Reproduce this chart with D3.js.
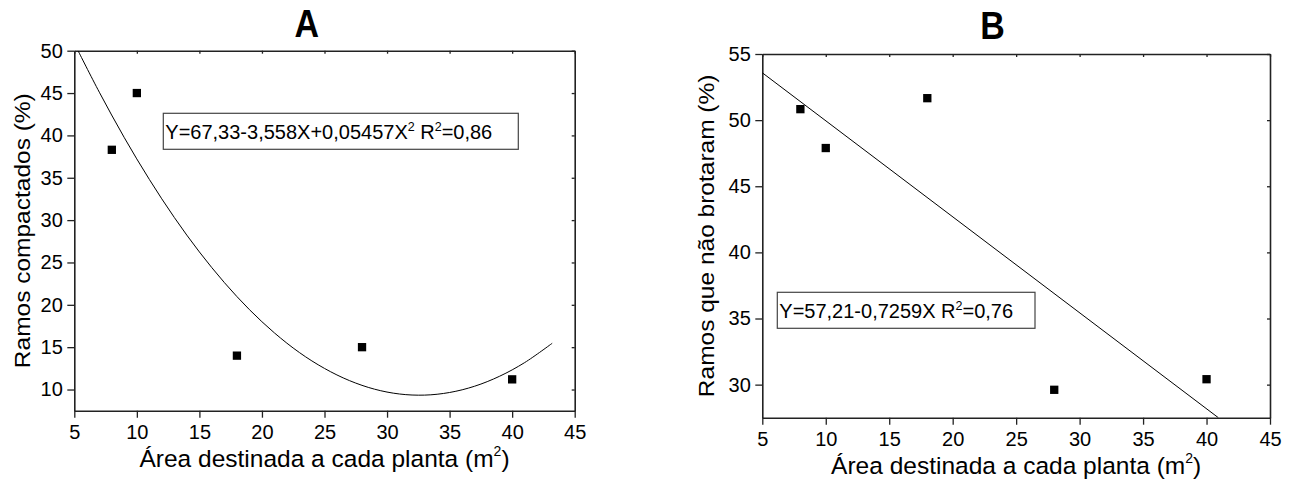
<!DOCTYPE html>
<html>
<head>
<meta charset="utf-8">
<script src="https://cdn.jsdelivr.net/npm/d3@7"></script>
<style>
  html, body { margin: 0; padding: 0; background: #fff; }
  svg { display: block; }
  text { font-family: "Liberation Sans", Arial, Helvetica, sans-serif; fill: #000; }
</style>
</head>
<body>
<svg id="chart" width="1296" height="482"></svg>
<script>
// ---------- data ----------
const xTickValues = [5, 10, 15, 20, 25, 30, 35, 40, 45];
const yTickValuesA = [10, 15, 20, 25, 30, 35, 40, 45, 50];
const yTickValuesB = [30, 35, 40, 45, 50, 55];

const areaA = [8, 10, 18, 28, 40];
const ramosCompactados = [38.3, 45.0, 14.0, 15.0, 11.2];

const areaB = [8, 10, 18, 28, 40];
const ramosNaoBrotaram = [50.83, 47.89, 51.66, 29.61, 30.41];

// fitted curve of panel A
const fitAX = [5.3, 7, 9, 11, 13, 15, 17, 19, 21, 23, 25, 27, 29, 31, 33, 35, 37, 39, 41, 43.2];
const fitAY = [50.0, 45.10, 39.73, 34.80, 30.30, 26.24, 22.62, 19.43, 16.68, 14.36, 12.49, 11.05, 10.04, 9.47, 9.34, 9.65, 10.39, 11.57, 13.18, 15.46];

// fitted line of panel B
const fitBX = [5, 40.93];
const fitBY = [53.58, 27.5];

const titleA = "A";
const titleB = "B";
const xLabel = ["Área destinada a cada planta (m", "2", ")"];
const yLabelA = "Ramos compactados (%)";
const yLabelB = "Ramos que não brotaram (%)";
const equationA = [["Y=67,33-3,558X+0,05457X", false], ["2", true], [" R", false], ["2", true], ["=0,86", false]];
const equationB = [["Y=57,21-0,7259X R", false], ["2", true], ["=0,76", false]];

// ---------- drawing ----------
const svg = d3.select("#chart");
const AXIS = "#222";

function drawPanel(cfg) {
  const x = d3.scaleLinear().domain([5, 45]).range([cfg.left, cfg.right]);
  const y = d3.scaleLinear().domain(cfg.yDomain).range([cfg.bottom, cfg.top]);
  const g = svg.append("g");

  const clipId = "clip" + cfg.id;
  svg.append("clipPath").attr("id", clipId).append("rect")
    .attr("x", cfg.left).attr("y", cfg.top)
    .attr("width", cfg.right - cfg.left).attr("height", cfg.bottom - cfg.top);

  // bottom axis
  const xb = g.append("g").attr("transform", `translate(0,${cfg.bottom})`)
    .call(d3.axisBottom(x).tickValues(xTickValues).tickSize(7).tickSizeOuter(0).tickPadding(7.5));
  // left axis
  const yl = g.append("g").attr("transform", `translate(${cfg.left},0)`)
    .call(d3.axisLeft(y).tickValues(cfg.yTicks).tickSize(7).tickSizeOuter(0).tickPadding(4.5));
  // top axis (inward ticks)
  const xt = g.append("g").attr("transform", `translate(0,${cfg.top})`)
    .call(d3.axisBottom(x).tickValues(xTickValues).tickSize(3).tickSizeOuter(0).tickFormat(""));
  // right axis (inward ticks)
  const yr = g.append("g").attr("transform", `translate(${cfg.right},0)`)
    .call(d3.axisLeft(y).tickValues(cfg.yTicks).tickSize(3).tickSizeOuter(0).tickFormat(""));

  [xb, yl, xt, yr].forEach(a => {
    a.select(".domain").attr("stroke", AXIS).attr("stroke-width", 1.6);
    a.selectAll(".tick line").attr("stroke", AXIS).attr("stroke-width", 1.3);
    a.selectAll(".tick text").attr("font-size", 20).attr("fill", "#111")
      .style("font-family", '"Liberation Sans", Arial, sans-serif');
  });

  // fit line
  g.append("path")
    .datum(cfg.fitX.map((v, i) => [v, cfg.fitY[i]]))
    .attr("clip-path", `url(#${clipId})`)
    .attr("fill", "none").attr("stroke", "#000").attr("stroke-width", 1)
    .attr("d", d3.line().x(d => x(d[0])).y(d => y(d[1])).curve(d3.curveCatmullRom));

  // points
  const s = 8.3;
  g.selectAll("rect.pt").data(cfg.px.map((v, i) => [v, cfg.py[i]])).join("rect")
    .attr("class", "pt")
    .attr("x", d => x(d[0]) - s / 2).attr("y", d => y(d[1]) - s / 2)
    .attr("width", s).attr("height", s).attr("fill", "#000");

  // equation box
  g.append("rect")
    .attr("x", cfg.box[0]).attr("y", cfg.box[1])
    .attr("width", cfg.box[2]).attr("height", cfg.box[3])
    .attr("fill", "#fff").attr("stroke", "#444").attr("stroke-width", 1.2);
  const eq = g.append("text").attr("x", cfg.box[0] + 2).attr("y", cfg.box[1] + 26)
    .attr("font-size", 20);
  let prevSup = false;
  cfg.equation.forEach(([t, sup]) => {
    const ts = eq.append("tspan").text(t);
    if (sup) ts.attr("font-size", 12.5).attr("dy", -8);
    else ts.attr("dy", prevSup ? 8 : 0);
    prevSup = sup;
  });

  // x axis label
  const xl = g.append("text")
    .attr("x", (cfg.left + cfg.right) / 2).attr("y", cfg.bottom + 56.5)
    .attr("text-anchor", "middle").attr("font-size", 24.5);
  xl.append("tspan").text(xLabel[0]);
  xl.append("tspan").attr("font-size", 14).attr("dy", -11).text(xLabel[1]);
  xl.append("tspan").attr("dy", 11).text(xLabel[2]);

  // y axis label
  g.append("text")
    .attr("transform", `translate(${cfg.yLabelX},${(cfg.top + cfg.bottom) / 2}) rotate(-90) scale(1,0.92)`)
    .attr("text-anchor", "middle").attr("font-size", 24.5)
    .text(cfg.yLabel);

  // panel title
  g.append("text")
    .attr("transform", `translate(${cfg.titleX},${cfg.titleY}) scale(1,1.12)`)
    .attr("text-anchor", "middle").attr("font-size", 34).attr("font-weight", "bold")
    .text(cfg.title);
}

drawPanel({
  id: "A", left: 74.3, right: 574.7, top: 50.7, bottom: 410.7,
  yDomain: [7.5, 50], yTicks: yTickValuesA,
  px: areaA, py: ramosCompactados, fitX: fitAX, fitY: fitAY,
  box: [163.3, 113.3, 355, 36], equation: equationA,
  yLabel: yLabelA, yLabelX: 30,
  title: titleA, titleX: 306.7, titleY: 37.3
});

drawPanel({
  id: "B", left: 762.3, right: 1270, top: 54, bottom: 417.7,
  yDomain: [27.5, 55], yTicks: yTickValuesB,
  px: areaB, py: ramosNaoBrotaram, fitX: fitBX, fitY: fitBY,
  box: [777.3, 292.3, 257.7, 36], equation: equationB,
  yLabel: yLabelB, yLabelX: 714,
  title: titleB, titleX: 992.5, titleY: 39.3
});
</script>
</body>
</html>
